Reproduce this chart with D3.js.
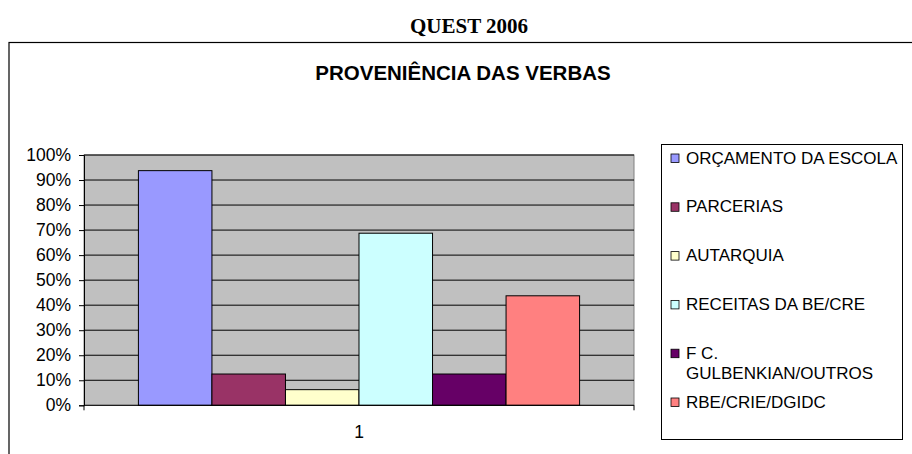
<!DOCTYPE html>
<html>
<head>
  <meta charset="utf-8">
  <script src="https://d3js.org/d3.v7.min.js"></script>
  <style>
    body { margin: 0; background: #fff; }
    text { font-family: "Liberation Sans", Arial, sans-serif; fill: #000; }
  </style>
</head>
<body>
<script type="text/javascript">

  // data
  var categories = ["1"];
  var seriesNames = ["ORÇAMENTO DA ESCOLA", "PARCERIAS", "AUTARQUIA",
                     "RECEITAS DA BE/CRE", "F C. GULBENKIAN/OUTROS", "RBE/CRIE/DGIDC"];
  var seriesValues = [0.9375, 0.125, 0.0625, 0.6875, 0.125, 0.4375];
  var seriesColors = ["#9999FF", "#993366", "#FFFFCC", "#CCFFFF", "#660066", "#FF8080"];
  var yTicks = [0, 0.1, 0.2, 0.3, 0.4, 0.5, 0.6, 0.7, 0.8, 0.9, 1.0];

  var W = 912, H = 454;
  var plot = {left: 84, right: 634, top: 155, bottom: 405.3};

  var svg = d3.select("body").append("svg")
    .attr("width", W)
    .attr("height", H);

  // page heading + chart frame (right and bottom run off the page)
  svg.append("text")
    .attr("x", 469).attr("y", 33)
    .attr("text-anchor", "middle")
    .style("font-family", "'Liberation Serif', 'Times New Roman', serif")
    .style("font-weight", "bold")
    .style("font-size", "21px")
    .text("QUEST 2006");

  svg.append("rect")
    .attr("x", 9).attr("y", 42.5)
    .attr("width", 940).attr("height", 440)
    .attr("fill", "#fff")
    .attr("stroke", "#000")
    .attr("stroke-width", 1.2);

  svg.append("text")
    .attr("x", 463).attr("y", 80)
    .attr("text-anchor", "middle")
    .style("font-weight", "bold")
    .style("font-size", "20.5px")
    .text("PROVENIÊNCIA DAS VERBAS");

  var y = d3.scaleLinear().domain([0, 1]).range([plot.bottom, plot.top]);
  var x0 = d3.scaleBand().domain(categories).range([plot.left, plot.right]).padding(0);
  var x1 = d3.scaleBand().domain(seriesNames).range([0, x0.bandwidth()])
    .paddingInner(0).paddingOuter(0.74);

  // plot area
  svg.append("rect")
    .attr("x", plot.left).attr("y", plot.top)
    .attr("width", plot.right - plot.left)
    .attr("height", plot.bottom - plot.top)
    .attr("fill", "#C0C0C0")
    .attr("stroke", "#808080")
    .attr("stroke-width", 1);

  svg.append("g").selectAll("line")
    .data(yTicks.filter(function(d) { return d > 0; }))
    .enter().append("line")
    .attr("x1", plot.left).attr("x2", plot.right)
    .attr("y1", function(d) { return y(d); })
    .attr("y2", function(d) { return y(d); })
    .attr("stroke", "#000")
    .attr("stroke-width", 1);

  // bars
  var groups = svg.append("g").selectAll("g")
    .data(categories)
    .enter().append("g")
    .attr("transform", function(c) { return "translate(" + x0(c) + ",0)"; });

  groups.selectAll("rect")
    .data(function() {
      return seriesNames.map(function(n, i) { return {name: n, value: seriesValues[i], color: seriesColors[i]}; });
    })
    .enter().append("rect")
    .attr("x", function(d) { return x1(d.name); })
    .attr("y", function(d) { return y(d.value); })
    .attr("width", x1.bandwidth())
    .attr("height", function(d) { return y(0) - y(d.value); })
    .attr("fill", function(d) { return d.color; })
    .attr("stroke", "#000")
    .attr("stroke-width", 1);

  // axes
  var yAxis = svg.append("g")
    .attr("transform", "translate(" + plot.left + ",0)")
    .call(d3.axisLeft(y).tickValues(yTicks).tickFormat(d3.format(".0%")).tickSize(5).tickPadding(8));
  yAxis.select(".domain").attr("stroke", "#000");
  yAxis.selectAll("text").style("font-size", "17.5px").attr("font-family", null);

  var xAxis = svg.append("g")
    .attr("transform", "translate(0," + plot.bottom + ")")
    .call(d3.axisBottom(x0).tickSize(0).tickPadding(20));
  xAxis.select(".domain").remove();
  xAxis.selectAll("text").style("font-size", "17.5px").attr("font-family", null);

  xAxis.append("line")
    .attr("x1", plot.left).attr("x2", plot.right)
    .attr("y1", 0).attr("y2", 0)
    .attr("stroke", "#000");
  xAxis.selectAll(".edge")
    .data(x0.range())
    .enter().append("line")
    .attr("class", "edge")
    .attr("x1", function(d) { return d; }).attr("x2", function(d) { return d; })
    .attr("y1", 0).attr("y2", 5)
    .attr("stroke", "#000");

  // legend
  var legend = svg.append("g");
  legend.append("rect")
    .attr("x", 661.5).attr("y", 144.5)
    .attr("width", 241).attr("height", 295)
    .attr("fill", "#fff")
    .attr("stroke", "#000")
    .attr("stroke-width", 1);

  var ly = d3.scalePoint().domain(seriesNames).range([157.5, 401.5]);

  var items = legend.selectAll(".item")
    .data(seriesNames)
    .enter().append("g")
    .attr("class", "item")
    .attr("transform", function(d) { return "translate(0," + (ly(d) + 6) + ")"; });

  items.append("rect")
    .attr("x", 671).attr("y", -9.5)
    .attr("width", 8).attr("height", 8.5)
    .attr("fill", function(d, i) { return seriesColors[i]; })
    .attr("stroke", "#000")
    .attr("stroke-width", 0.8);

  items.each(function(name) {
    var t = d3.select(this).append("text")
      .attr("x", 686).attr("y", 0)
      .style("font-size", "17px");
    var words = name.split(" "), line = [], lineNo = 0;
    var tspan = t.append("tspan").attr("x", 686).attr("dy", 0);
    words.forEach(function(w) {
      line.push(w);
      tspan.text(line.join(" "));
      if (tspan.node().getComputedTextLength() > 214 && line.length > 1) {
        line.pop();
        tspan.text(line.join(" "));
        line = [w];
        lineNo++;
        tspan = t.append("tspan").attr("x", 686).attr("dy", 20).text(w);
      }
    });
  });

</script>
</body>
</html>
